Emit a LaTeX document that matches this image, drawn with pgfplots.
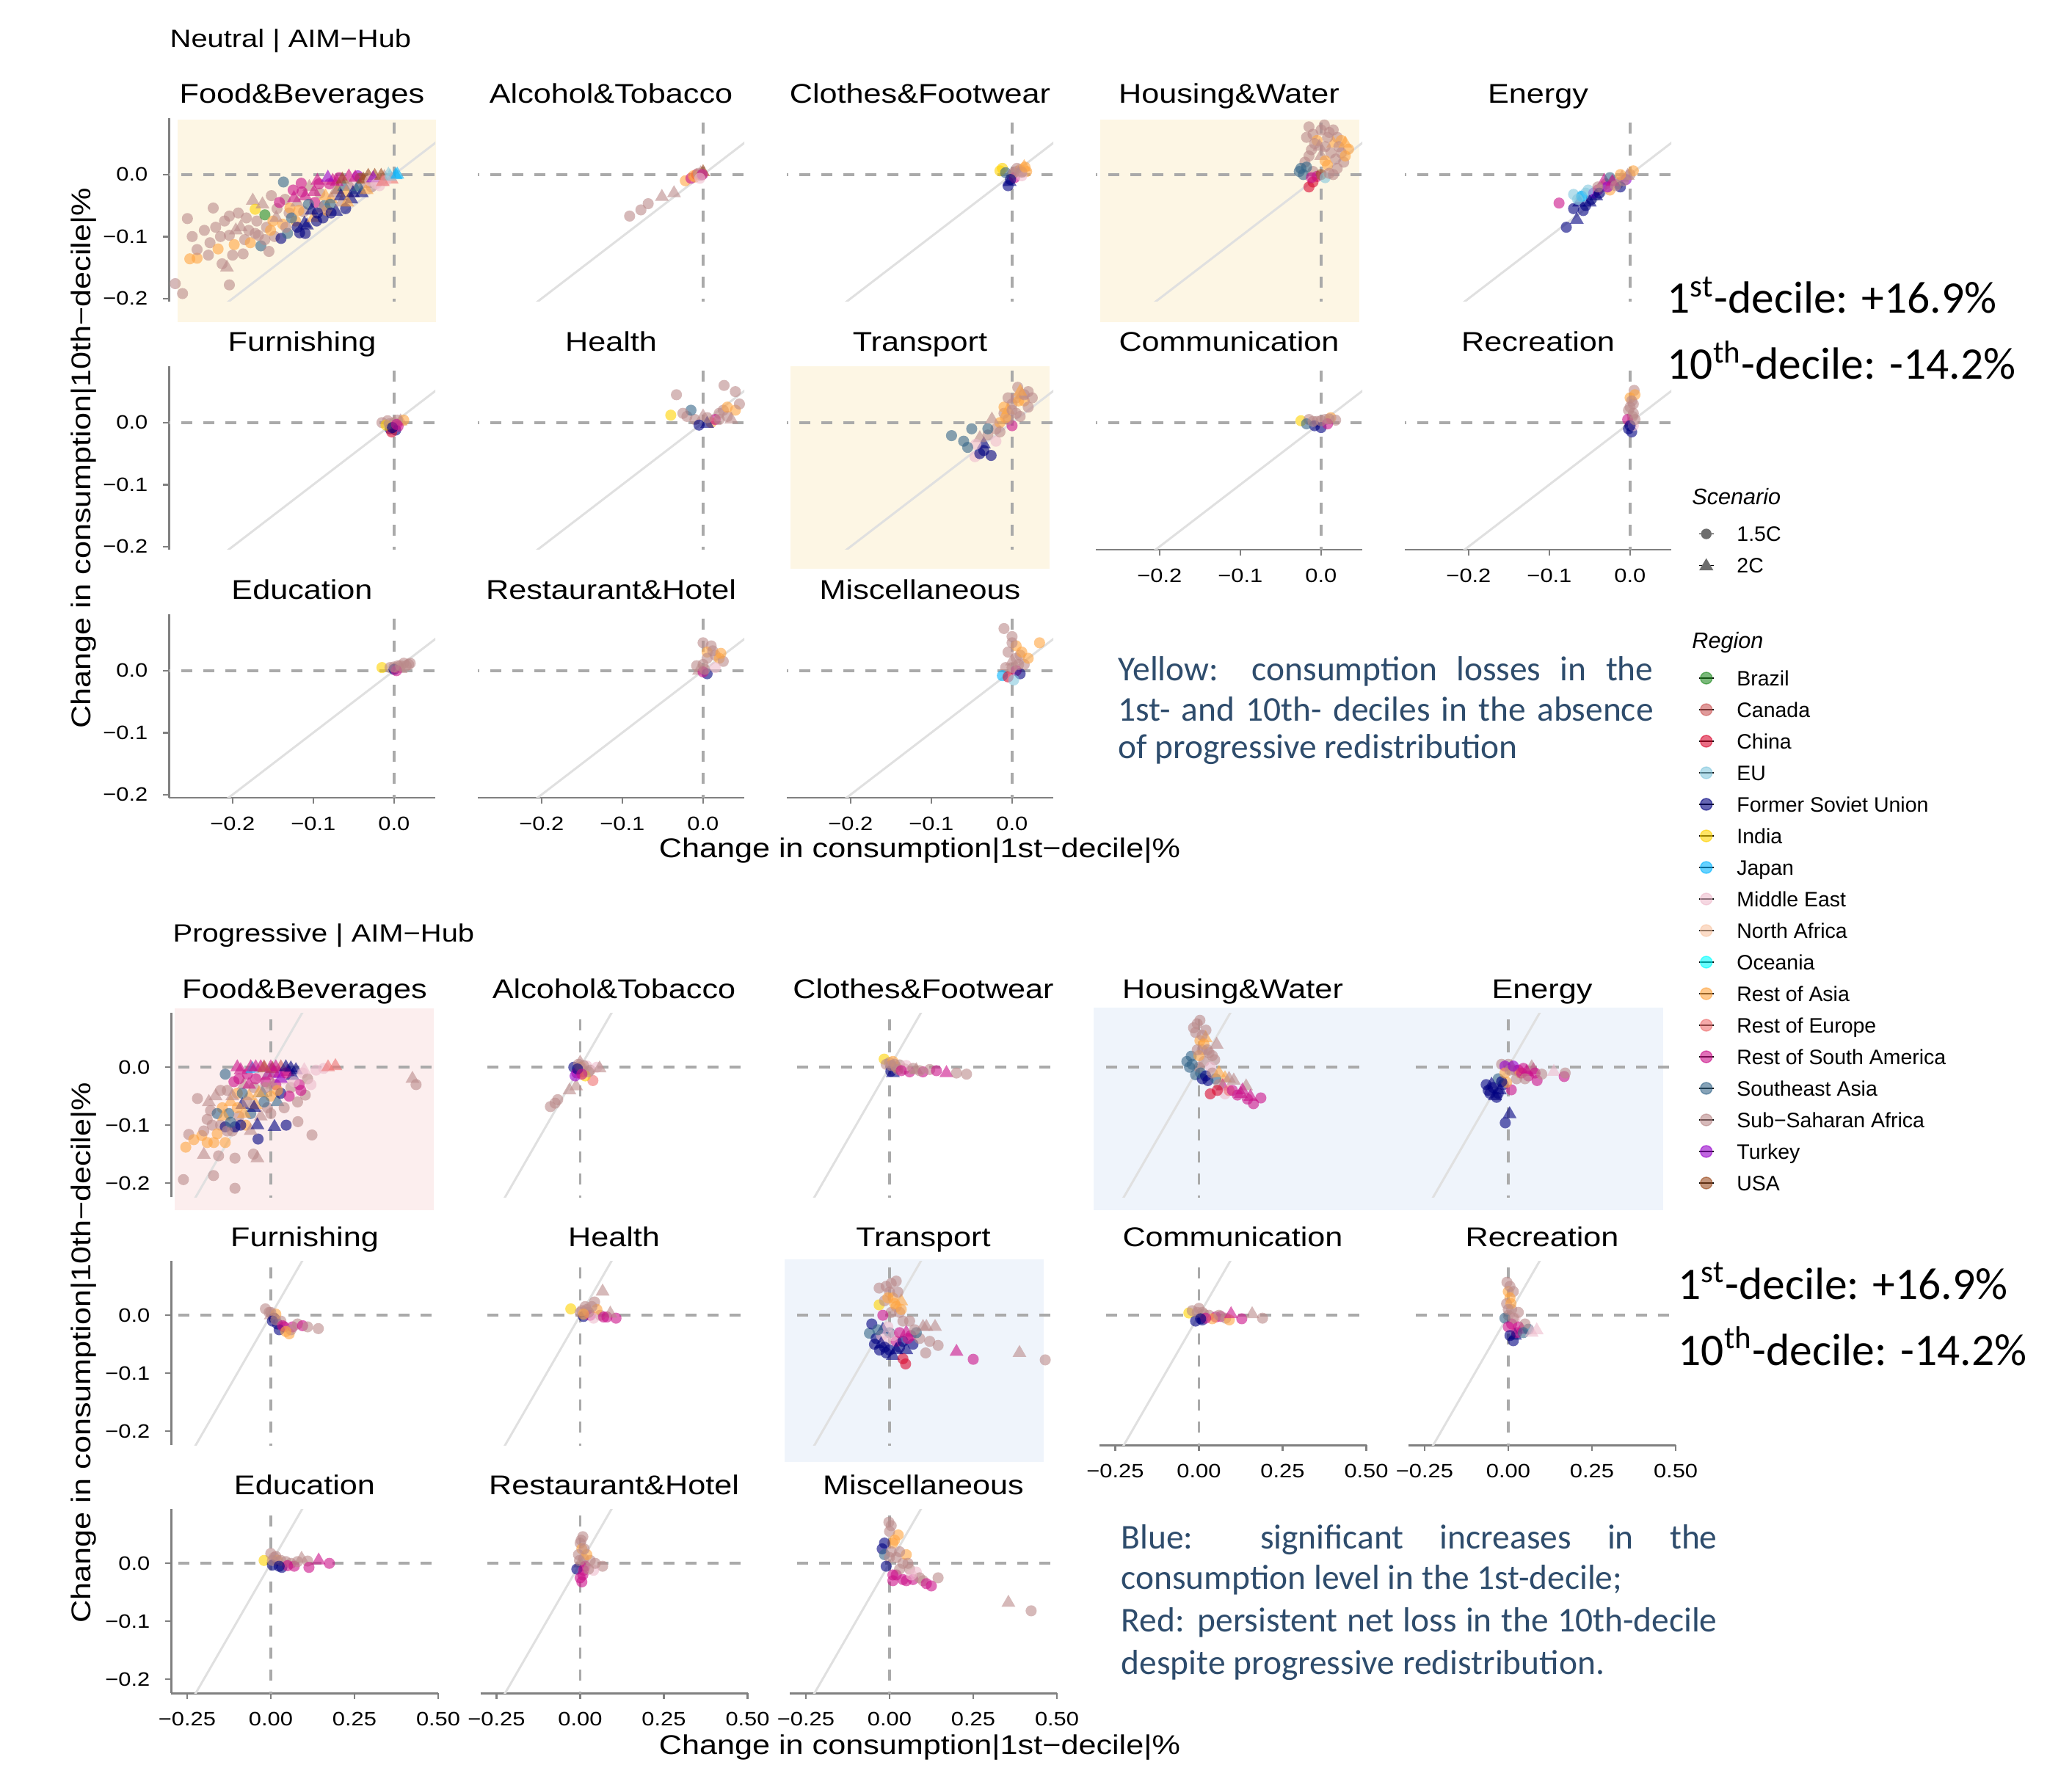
\documentclass[border=0pt]{standalone}
\usepackage{pgfplots}
\pgfplotsset{compat=1.18}
\usepackage{pgfplotstable}
\usepackage{fontspec}
\setmainfont{Liberation Sans}
\newfontfamily\pf[FakeStretch=1.17]{Liberation Sans}
\newfontfamily\cf{Carlito}

\definecolor{brC}{RGB}{34,139,34}
\definecolor{caC}{RGB}{203,87,87}
\definecolor{cnC}{RGB}{218,10,48}
\definecolor{euC}{RGB}{132,200,222}
\definecolor{fsC}{RGB}{0,0,128}
\definecolor{inC}{RGB}{255,210,0}
\definecolor{jpC}{RGB}{0,180,255}
\definecolor{meC}{RGB}{238,188,205}
\definecolor{naC}{RGB}{248,197,163}
\definecolor{ocC}{RGB}{0,255,255}
\definecolor{raC}{RGB}{255,165,65}
\definecolor{reC}{RGB}{238,113,113}
\definecolor{rsC}{RGB}{203,17,137}
\definecolor{seC}{RGB}{53,102,137}
\definecolor{ssC}{RGB}{186,138,138}
\definecolor{tuC}{RGB}{150,0,203}
\definecolor{usC}{RGB}{157,77,33}
\definecolor{ybg}{RGB}{253,246,228}
\definecolor{pbg}{RGB}{252,238,238}
\definecolor{bbg}{RGB}{239,244,251}
\definecolor{axgray}{RGB}{128,128,128}
\definecolor{dashgray}{RGB}{170,170,170}
\definecolor{diaggray}{RGB}{224,224,224}
\definecolor{btext}{RGB}{46,76,108}
\definecolor{scen}{RGB}{110,110,110}

\pgfplotsset{
 every axis title/.style={at={(0.5,1)}, anchor=base, yshift=0.2cm, inner sep=0pt, font=\pf\fontsize{10.5}{12}\selectfont},
 pts/.style={scatter, only marks, scatter src=explicit symbolic, mark size=2.15pt,
   mark options={draw opacity=0, fill opacity=0.6},
   scatter/classes={
    brc={mark=*,brC}, brt={mark=triangle*,brC,mark size=3.1pt},
    cac={mark=*,caC}, cat={mark=triangle*,caC,mark size=3.1pt},
    cnc={mark=*,cnC}, cnt={mark=triangle*,cnC,mark size=3.1pt},
    euc={mark=*,euC}, eut={mark=triangle*,euC,mark size=3.1pt},
    fsc={mark=*,fsC}, fst={mark=triangle*,fsC,mark size=3.1pt},
    inc={mark=*,inC}, int={mark=triangle*,inC,mark size=3.1pt},
    jpc={mark=*,jpC}, jpt={mark=triangle*,jpC,mark size=3.1pt},
    mec={mark=*,meC}, met={mark=triangle*,meC,mark size=3.1pt},
    nac={mark=*,naC}, nat={mark=triangle*,naC,mark size=3.1pt},
    occ={mark=*,ocC}, oct={mark=triangle*,ocC,mark size=3.1pt},
    rac={mark=*,raC}, rat={mark=triangle*,raC,mark size=3.1pt},
    rec={mark=*,reC}, ret={mark=triangle*,reC,mark size=3.1pt},
    rsc={mark=*,rsC}, rst={mark=triangle*,rsC,mark size=3.1pt},
    sec={mark=*,seC}, set={mark=triangle*,seC,mark size=3.1pt},
    ssc={mark=*,ssC}, sst={mark=triangle*,ssC,mark size=3.1pt},
    tuc={mark=*,tuC}, tut={mark=triangle*,tuC,mark size=3.1pt},
    usc={mark=*,usC}, ust={mark=triangle*,usC,mark size=3.1pt}}},
 common/.style={scale only axis, clip=true,
   axis line style={draw=axgray, line width=0.85pt, -},
   tick style={draw=axgray, line width=0.7pt}, tick align=outside, major tick length=0.08cm,
   ticklabel style={font=\pf\fontsize{7.5}{9}\selectfont, inner sep=0pt},
   ytick={-0.2,-0.1,0}, yticklabels={−0.2,−0.1,0.0},
   yticklabel style={xshift=-0.2cm}, xticklabel style={yshift=-0.17cm}},
 neu/.style={common, width=3.63cm, height=2.50cm, xmin=-0.279, xmax=0.051, ymin=-0.205, ymax=0.091,
   xtick={-0.2,-0.1,0}, xticklabels={−0.2,−0.1,0.0}},
 pro/.style={common, width=3.64cm, height=2.51cm, xmin=-0.298, xmax=0.50, ymin=-0.224, ymax=0.094,
   xtick={-0.25,0,0.25,0.5}, xticklabels={−0.25,0.00,0.25,0.50}},
 nax/.style={hide axis},
 yax/.style={axis y line*=left, hide x axis},
 xax/.style={axis x line*=bottom, hide y axis},
 xyax/.style={axis x line*=bottom, axis y line*=left},
}

\newcommand\panel[6]{%
 \begin{axis}[#1, #2, at={(#3cm,#4cm)}, anchor=north west, title={#5}]
  \addplot[diaggray, line width=0.85pt] coordinates {(-1,-1) (1,1)};
  \addplot[dashgray, line width=1.1pt, dash pattern=on 0.15cm off 0.15cm] coordinates {(-1,0) (1,0)};
  \addplot[dashgray, line width=1.1pt, dash pattern=on 0.15cm off 0.15cm] coordinates {(0,-1) (0,1)};
  \addplot[pts] table[x=x, y=y, meta=c] {#6};
 \end{axis}}

\newcommand\lst{\rule[-0.115cm]{0pt}{0.43cm}}
\newcommand\regimg[1]{\addlegendimage{legend image code/.code={\path (-0.1cm,0) -- (0.1cm,0); \fill[#1, opacity=0.6] (0,0) circle (0.08cm);}}}

% ---------------- Neutral data ----------------
\pgfplotstableread{
x y c
-0.271 -0.176 ssc
-0.262 -0.192 ssc
-0.256 -0.071 ssc
-0.253 -0.136 rac
-0.244 -0.135 rac
-0.244 -0.121 ssc
-0.230 -0.130 ssc
-0.224 -0.054 ssc
-0.221 -0.085 ssc
-0.215 -0.100 ssc
-0.213 -0.144 ssc
-0.207 -0.150 sst
-0.204 -0.178 ssc
-0.204 -0.098 ssc
-0.204 -0.067 ssc
-0.198 -0.113 rac
-0.193 -0.062 ssc
-0.190 -0.085 sst
-0.187 -0.128 ssc
-0.185 -0.105 ssc
-0.180 -0.090 ssc
-0.175 -0.042 sst
-0.172 -0.056 inc
-0.170 -0.075 ssc
-0.168 -0.098 ssc
-0.165 -0.115 sec
-0.160 -0.065 brc
-0.158 -0.085 ssc
-0.155 -0.124 ssc
-0.152 -0.034 ssc
-0.150 -0.075 rac
-0.148 -0.100 ssc
-0.145 -0.055 ssc
-0.140 -0.103 fsc
-0.138 -0.080 rac
-0.137 -0.012 sec
-0.135 -0.040 ssc
-0.132 -0.095 sec
-0.130 -0.062 ssc
-0.129 -0.054 rac
-0.125 -0.025 rsc
-0.122 -0.075 rac
-0.120 -0.045 sst
-0.117 -0.094 fsc
-0.115 -0.014 rsc
-0.112 -0.060 ssc
-0.111 -0.079 fst
-0.110 -0.035 rst
-0.108 -0.082 fst
-0.105 -0.020 sst
-0.100 -0.070 rat
-0.098 -0.045 rsc
-0.095 -0.010 rst
-0.092 -0.030 ssc
-0.088 -0.070 fsc
-0.086 -0.050 sec
-0.083 -0.058 rac
-0.080 -0.015 rsc
-0.078 -0.040 rat
-0.076 -0.010 rst
-0.072 -0.060 fst
-0.070 -0.025 ust
-0.068 -0.005 rsc
-0.065 -0.045 sst
-0.062 -0.020 set
-0.060 -0.055 fsc
-0.059 -0.030 rat
-0.056 -0.003 rst
-0.053 -0.040 fst
-0.050 -0.012 mec
-0.047 -0.025 set
-0.045 -0.002 tuc
-0.042 -0.006 usc
-0.040 -0.030 fst
-0.036 -0.015 sst
-0.032 -0.002 ust
-0.028 -0.020 ssc
-0.024 -0.002 ust
-0.020 -0.010 mec
-0.018 -0.018 mec
-0.012 -0.004 sst
-0.007 0.000 eut
0.002 -0.001 jpt
-0.003 -0.008 ret
-0.250 -0.100 ssc
-0.235 -0.090 ssc
-0.228 -0.110 ssc
-0.218 -0.120 rac
-0.210 -0.075 ssc
-0.200 -0.130 ssc
-0.196 -0.090 sst
-0.183 -0.070 ssc
-0.178 -0.110 rac
-0.172 -0.095 ssc
-0.163 -0.048 sst
-0.160 -0.105 ssc
-0.153 -0.090 rac
-0.146 -0.070 sst
-0.142 -0.045 rsc
-0.134 -0.085 ssc
-0.127 -0.070 sec
-0.124 -0.038 rst
-0.118 -0.058 rac
-0.114 -0.028 rsc
-0.106 -0.048 sec
-0.102 -0.058 fst
-0.099 -0.028 rst
-0.096 -0.075 fsc
-0.093 -0.015 rsc
-0.090 -0.055 sst
-0.085 -0.035 rat
-0.082 -0.005 tut
-0.079 -0.048 sec
-0.074 -0.030 sst
-0.071 -0.012 rst
-0.066 -0.035 fst
-0.064 -0.008 ust
-0.058 -0.045 rat
-0.055 -0.018 sst
-0.051 -0.030 fst
-0.048 -0.005 rst
-0.044 -0.020 set
-0.038 -0.008 ust
-0.034 -0.025 rat
-0.030 -0.010 mec
-0.026 -0.006 tut
-0.022 -0.015 mec
-0.016 -0.002 ust
-0.010 -0.010 mec
-0.005 -0.003 eut
0.004 0.000 jpt
-0.014 -0.012 ret
-0.120 -0.085 fsc
-0.095 -0.062 fsc
-0.078 -0.062 fsc
-0.110 -0.095 fsc
}\nA
\pgfplotstableread{
x y c
-0.091 -0.067 ssc
-0.077 -0.057 ssc
-0.068 -0.047 ssc
-0.051 -0.036 sst
-0.036 -0.030 sst
-0.022 -0.010 rac
-0.015 -0.006 rsc
-0.010 -0.004 rac
-0.008 0.000 cnc
-0.005 -0.002 mec
-0.003 0.002 sst
0.000 0.004 ust
-0.002 -0.001 ssc
-0.012 -0.002 rac
-0.006 0.002 ssc
-0.001 0.000 rsc
-0.004 -0.006 mec
}\nB
\pgfplotstableread{
x y c
-0.015 0.006 inc
-0.012 0.010 inc
-0.005 -0.018 fsc
-0.003 -0.012 fst
0.000 0.000 ssc
0.005 0.005 ssc
0.010 0.008 rac
0.015 0.012 rat
0.018 0.005 rac
0.003 -0.005 rsc
0.008 0.002 sst
-0.008 0.003 sec
0.012 -0.002 mec
0.002 0.003 ssc
0.006 0.010 ssc
0.012 0.004 ssc
-0.002 -0.008 fsc
0.016 0.012 rac
}\nC
\pgfplotstableread{
x y c
-0.015 0.077 ssc
0.004 0.080 ssc
-0.010 0.065 ssc
0.010 0.068 ssc
0.020 0.060 ssc
-0.005 0.055 rac
0.015 0.050 rat
0.034 0.041 rac
0.025 0.035 ssc
-0.012 0.040 ssc
0.000 0.030 sst
0.018 0.025 ssc
-0.020 0.020 ssc
0.008 0.015 rac
-0.027 0.005 sec
-0.022 0.000 sec
-0.010 0.005 ssc
-0.005 -0.003 rsc
0.000 0.000 usc
0.005 -0.005 euc
-0.015 -0.020 cnc
-0.010 -0.012 cnc
0.010 0.002 ssc
0.020 0.010 ssc
0.028 0.020 ssc
-0.002 0.045 sst
0.012 0.035 ssc
-0.018 0.060 ssc
0.000 0.072 ssc
0.015 0.072 ssc
0.025 0.055 rac
0.030 0.030 rac
-0.008 0.050 ssc
0.005 0.045 ssc
0.022 0.045 ssc
-0.015 0.030 ssc
0.005 0.022 rac
-0.025 0.010 sec
-0.018 0.012 sec
0.015 0.000 ssc
-0.012 -0.005 rsc
0.008 0.060 ssc
0.030 0.050 rat
}\nD
\pgfplotstableread{
x y c
-0.079 -0.085 fsc
-0.066 -0.073 fst
-0.088 -0.046 rsc
-0.070 -0.055 fsc
-0.063 -0.045 fst
-0.055 -0.050 fsc
-0.048 -0.040 fsc
-0.070 -0.032 euc
-0.062 -0.038 eut
-0.055 -0.030 euc
-0.060 -0.035 jpc
-0.045 -0.030 tuc
-0.040 -0.025 rsc
-0.042 -0.035 fst
-0.035 -0.020 ssc
-0.030 -0.015 ssc
-0.025 -0.025 rac
-0.020 -0.010 ssc
-0.015 -0.015 ssc
-0.010 -0.005 sst
-0.005 -0.008 tuc
-0.032 -0.010 rst
0.000 0.000 ssc
0.004 0.006 rac
-0.025 -0.005 sec
-0.012 -0.020 fsc
-0.058 -0.058 fsc
-0.050 -0.045 fst
-0.065 -0.040 euc
-0.052 -0.025 euc
-0.038 -0.030 fsc
-0.028 -0.020 tuc
-0.022 -0.012 rst
-0.018 -0.018 ssc
-0.008 -0.010 ssc
-0.003 -0.002 sst
-0.040 -0.020 ssc
-0.012 0.000 rac
}\nE
\pgfplotstableread{
x y c
-0.015 0.000 ssc
-0.008 0.003 ssc
0.000 0.000 ssc
0.008 0.002 sst
-0.005 -0.010 fsc
0.002 -0.012 fsc
-0.003 -0.015 cnc
0.012 0.004 rac
-0.010 -0.004 inc
0.005 -0.006 rsc
-0.006 -0.002 ssc
0.004 0.004 ssc
-0.002 -0.008 fsc
0.003 -0.003 rsc
}\nF
\pgfplotstableread{
x y c
-0.040 0.012 inc
-0.033 0.045 ssc
0.026 0.060 ssc
0.040 0.050 ssc
-0.020 0.010 ssc
-0.010 0.005 ssc
0.000 0.010 sst
0.010 0.000 rac
0.020 0.015 ssc
0.030 0.010 ssc
-0.005 -0.004 fsc
0.005 -0.002 fst
0.015 0.005 rsc
0.040 0.020 rac
0.035 0.005 sst
-0.015 0.020 sec
0.045 0.030 ssc
0.020 0.005 ssc
0.025 0.020 ssc
-0.025 0.015 ssc
0.005 0.008 ssc
0.030 0.025 rac
}\nG
\pgfplotstableread{
x y c
-0.046 -0.055 mec
-0.040 -0.050 fsc
-0.026 -0.053 fsc
-0.075 -0.021 sec
-0.050 -0.010 sec
-0.060 -0.030 sec
-0.035 -0.035 fst
-0.030 -0.020 ssc
-0.020 -0.010 ssc
-0.015 0.000 rac
-0.010 0.015 ssc
-0.005 0.020 rat
0.000 0.030 ssc
0.005 0.040 ssc
0.007 0.057 ssc
0.020 0.050 ssc
0.015 0.035 rac
0.010 0.010 ssc
-0.025 0.005 sst
-0.020 -0.030 mec
0.000 -0.005 rsc
-0.010 0.025 rac
0.012 0.045 sst
-0.040 -0.025 sst
0.020 0.025 ssc
-0.005 0.005 ssc
-0.035 -0.045 fsc
-0.030 -0.010 sec
-0.015 -0.015 ssc
-0.008 0.008 rac
0.000 0.020 ssc
0.008 0.035 rac
0.015 0.045 ssc
0.025 0.040 ssc
0.010 0.050 rat
-0.005 0.040 ssc
-0.045 -0.035 mec
0.005 0.015 ssc
-0.055 -0.040 sec
}\nH
\pgfplotstableread{
x y c
-0.025 0.003 inc
-0.015 0.005 ssc
-0.005 0.002 ssc
0.005 0.005 ssc
0.012 0.008 rac
0.018 0.004 ssc
0.000 -0.008 fsc
-0.008 -0.005 fsc
0.008 -0.002 rsc
-0.018 -0.002 sec
0.000 0.003 ssc
0.010 0.006 ssc
-0.010 0.002 ssc
}\nI
\pgfplotstableread{
x y c
0.005 0.052 ssc
0.000 0.040 rac
0.004 0.030 ssc
-0.002 0.020 ssc
0.003 0.010 ssc
0.000 0.000 sst
-0.002 -0.010 fsc
0.002 -0.015 fsc
0.006 0.045 rac
-0.003 0.005 rsc
0.004 -0.005 mec
0.002 0.035 ssc
0.000 0.025 ssc
0.004 0.015 ssc
0.000 -0.005 fsc
0.006 0.005 ssc
}\nJ
\pgfplotstableread{
x y c
-0.015 0.005 inc
-0.005 0.005 ssc
0.005 0.008 ssc
0.012 0.012 ssc
0.018 0.010 ssc
0.000 0.002 fsc
0.008 0.003 sst
0.003 0.000 rsc
0.008 0.008 ssc
0.015 0.008 ssc
0.000 0.006 ssc
0.020 0.012 ssc
}\nK
\pgfplotstableread{
x y c
0.000 0.045 ssc
0.010 0.040 ssc
0.005 0.030 rac
0.015 0.025 ssc
0.020 0.020 rac
0.025 0.015 ssc
0.000 0.010 ssc
-0.005 0.000 sst
0.005 -0.005 fsc
0.000 -0.002 rsc
0.015 0.005 mec
-0.008 0.008 ssc
0.005 0.020 ssc
0.012 0.032 ssc
0.022 0.028 rac
0.002 0.002 ssc
}\nL
\pgfplotstableread{
x y c
-0.010 0.068 ssc
0.034 0.045 rac
0.000 0.055 ssc
0.005 0.040 rac
-0.005 0.030 ssc
0.010 0.025 ssc
0.000 0.015 sst
0.015 0.010 ssc
-0.008 0.005 ssc
0.005 0.000 rsc
-0.012 -0.008 jpc
-0.005 -0.010 cnc
0.010 -0.005 fsc
0.020 0.020 rac
0.002 -0.015 euc
0.000 0.045 ssc
0.005 0.020 ssc
0.012 0.030 rac
0.000 0.005 ssc
0.008 0.010 ssc
}\nM
% ---------------- Progressive data ----------------
\pgfplotstableread{
x y c
-0.261 -0.194 ssc
-0.171 -0.187 ssc
-0.107 -0.209 ssc
-0.254 -0.138 rac
-0.245 -0.116 ssc
-0.230 -0.125 rac
-0.219 -0.054 ssc
-0.206 -0.118 rac
-0.200 -0.151 sst
-0.190 -0.090 ssc
-0.180 -0.075 ssc
-0.170 -0.130 rac
-0.165 -0.050 sst
-0.156 -0.153 ssc
-0.150 -0.100 ssc
-0.145 -0.070 rac
-0.136 -0.130 rac
-0.136 -0.103 fsc
-0.136 -0.012 sec
-0.130 -0.040 ssc
-0.125 -0.080 sec
-0.120 -0.060 rat
-0.115 -0.110 ssc
-0.110 -0.025 rsc
-0.107 -0.103 fsc
-0.107 -0.157 ssc
-0.100 -0.045 rac
-0.095 -0.085 ssc
-0.090 -0.005 rst
-0.085 -0.065 fst
-0.080 -0.030 sst
-0.075 -0.100 rac
-0.070 -0.012 rsc
-0.065 -0.050 rat
-0.060 -0.080 sec
-0.055 -0.003 jpt
-0.052 -0.150 ssc
-0.050 -0.035 ssc
-0.045 -0.065 rat
-0.040 -0.157 sst
-0.038 -0.124 fsc
-0.035 -0.015 mec
-0.030 -0.085 sst
-0.025 -0.045 set
-0.020 -0.002 ust
-0.015 -0.025 rsc
-0.010 -0.070 ssc
-0.005 -0.010 eut
0.000 -0.050 rac
0.005 -0.003 ust
0.011 -0.103 fst
0.015 -0.030 rsc
0.020 -0.060 set
0.025 -0.012 tut
0.030 -0.045 fsc
0.040 -0.020 mec
0.046 -0.100 fsc
0.050 -0.008 rst
0.060 -0.035 ssc
0.065 -0.015 fst
0.075 -0.005 fst
0.081 -0.094 ssc
0.085 -0.030 rsc
0.095 -0.010 mec
0.103 -0.048 ssc
0.110 -0.020 ssc
0.123 -0.117 ssc
0.135 -0.005 mec
0.158 -0.002 mec
0.171 0.000 ret
0.193 0.002 ret
0.423 -0.020 sst
0.434 -0.030 ssc
-0.060 0.000 rst
-0.030 0.000 rst
0.000 0.000 rst
0.030 0.000 cat
0.060 -0.002 fst
-0.200 -0.110 ssc
-0.190 -0.130 rac
-0.185 -0.060 sst
-0.175 -0.100 ssc
-0.160 -0.115 rac
-0.160 -0.080 sec
-0.150 -0.040 ssc
-0.140 -0.085 rat
-0.130 -0.110 ssc
-0.120 -0.095 sec
-0.115 -0.050 sst
-0.100 -0.070 rac
-0.095 -0.020 rsc
-0.090 -0.100 fsc
-0.085 -0.045 sec
-0.080 -0.080 rat
-0.070 -0.060 ssc
-0.065 -0.030 rst
-0.060 -0.110 sst
-0.050 -0.070 fst
-0.045 -0.020 rsc
-0.040 -0.100 fst
-0.035 -0.045 rat
-0.020 -0.060 sec
-0.015 -0.035 ssc
-0.010 -0.015 rst
0.000 -0.080 ssc
0.005 -0.030 sst
0.010 -0.010 rst
0.020 -0.040 rac
0.030 -0.020 tut
0.040 -0.070 ssc
0.045 -0.010 rsc
0.055 -0.050 rsc
0.070 -0.025 mec
0.080 -0.060 ssc
0.090 -0.040 rsc
0.100 -0.005 met
-0.100 0.000 rst
-0.045 0.000 rst
0.015 0.000 rst
0.045 0.000 fst
-0.020 0.000 cat
0.120 -0.030 mec
}\pA
\pgfplotstableread{
x y c
-0.089 -0.068 ssc
-0.067 -0.056 ssc
-0.075 -0.062 ssc
-0.032 -0.040 sst
-0.012 -0.033 sst
-0.019 0.000 fsc
-0.010 -0.010 rsc
-0.005 0.005 ssc
0.000 0.008 sst
0.005 0.000 rac
0.010 -0.008 ssc
0.020 0.002 mec
0.038 -0.023 rec
0.030 -0.005 ssc
0.050 0.000 mec
0.058 -0.002 sst
-0.015 -0.015 tuc
0.015 -0.015 inc
0.000 0.000 ssc
0.010 0.003 ssc
-0.008 -0.003 fsc
0.025 -0.008 ssc
0.005 -0.012 rsc
}\pB
\pgfplotstableread{
x y c
-0.016 0.014 inc
-0.010 0.005 ssc
0.004 -0.007 fsc
0.010 -0.010 fst
0.000 0.008 ssc
0.020 0.000 rac
0.030 0.004 ssc
0.045 -0.003 ssc
0.060 -0.008 rsc
0.080 -0.005 sst
0.100 -0.008 rsc
0.120 -0.004 ssc
0.140 -0.006 rsc
0.170 -0.010 rst
0.200 -0.010 ssc
0.230 -0.012 ssc
0.010 0.010 rac
0.050 0.003 mec
0.005 0.003 ssc
0.015 0.005 ssc
0.025 -0.004 ssc
0.035 -0.006 rsc
0.070 -0.002 ssc
0.090 -0.006 ssc
}\pC
\pgfplotstableread{
x y c
-0.016 0.068 ssc
0.003 0.081 ssc
-0.005 0.075 ssc
0.021 0.064 ssc
0.053 0.039 sst
0.003 0.046 rac
0.020 0.050 rat
0.010 0.030 ssc
-0.023 0.019 sec
-0.036 0.010 sec
-0.010 -0.013 sec
0.000 0.000 ssc
0.015 0.010 ssc
0.027 -0.023 fsc
0.010 -0.020 fsc
0.047 0.013 ssc
0.035 0.000 mec
0.034 -0.046 cnc
0.078 -0.019 rat
0.104 -0.023 sst
0.071 -0.033 rst
0.115 -0.048 rsc
0.141 -0.033 sst
0.154 -0.051 rst
0.185 -0.053 rsc
0.163 -0.063 rsc
0.078 -0.046 mec
0.125 -0.046 rst
0.050 -0.020 sec
0.060 -0.030 ssc
0.090 -0.040 rec
0.000 0.020 rac
0.030 0.025 ssc
-0.010 0.060 ssc
0.010 0.055 ssc
0.015 0.040 rac
0.025 0.030 ssc
-0.005 0.030 ssc
-0.020 0.005 sec
-0.028 0.000 sec
0.005 -0.010 sec
0.020 -0.015 fsc
0.040 -0.010 ssc
0.060 -0.010 rat
0.090 -0.020 sst
0.100 -0.040 rsc
0.130 -0.040 rst
0.145 -0.055 rsc
0.055 -0.040 cnc
0.040 0.020 ssc
}\pD
\pgfplotstableread{
x y c
-0.066 -0.030 fsc
-0.055 -0.045 fsc
-0.045 -0.035 fsc
-0.035 -0.052 fsc
-0.040 -0.050 fst
-0.025 -0.040 fst
-0.015 -0.030 fsc
-0.009 -0.096 fsc
0.004 -0.081 fst
0.009 -0.039 rsc
-0.005 -0.026 rac
-0.020 0.005 ssc
0.000 0.005 ssc
0.010 0.000 sst
0.020 -0.005 ssc
0.030 -0.005 rsc
0.035 -0.010 rac
0.045 -0.002 rsc
0.060 -0.015 rsc
0.075 -0.005 rst
0.086 -0.023 rsc
0.070 0.000 sst
0.136 -0.008 met
0.167 -0.016 rsc
0.170 -0.010 ssc
-0.010 0.002 tuc
0.025 -0.020 ssc
-0.030 -0.020 sec
-0.060 -0.040 fsc
-0.050 -0.030 fst
-0.030 -0.045 fsc
-0.020 -0.025 fsc
-0.010 -0.010 rac
0.005 -0.005 ssc
0.015 0.002 tuc
0.040 -0.010 rsc
0.055 -0.008 rst
0.080 -0.010 rsc
0.100 -0.012 ssc
0.050 -0.020 ssc
}\pE
\pgfplotstableread{
x y c
-0.016 0.011 ssc
-0.005 0.005 ssc
0.000 0.000 sst
0.010 -0.005 fsc
0.020 -0.015 fsc
0.030 -0.010 ssc
0.040 -0.020 rsc
0.055 -0.032 rac
0.065 -0.020 rsc
0.080 -0.015 ssc
0.095 -0.018 rsc
0.110 -0.020 ssc
0.142 -0.023 ssc
0.025 -0.025 fsc
0.015 0.002 rac
0.000 0.005 ssc
0.005 -0.010 fsc
0.015 -0.008 ssc
0.035 -0.018 rsc
0.060 -0.025 ssc
0.045 -0.028 rac
}\pF
\pgfplotstableread{
x y c
-0.028 0.011 inc
0.000 0.005 ssc
0.010 -0.002 fsc
0.020 0.010 ssc
0.043 0.023 ssc
0.067 0.041 sst
0.030 0.000 rsc
0.060 0.000 ssc
0.080 -0.003 rsc
0.107 -0.005 rsc
0.090 0.003 sst
0.050 0.010 rac
0.015 0.015 ssc
0.040 -0.005 mec
0.005 0.008 ssc
0.025 0.005 ssc
0.035 0.015 ssc
0.070 -0.003 rsc
0.010 0.002 rac
}\pG
\pgfplotstableread{
x y c
0.020 0.059 ssc
-0.031 0.047 ssc
-0.010 0.050 ssc
-0.031 0.018 inc
0.035 0.024 rat
0.000 0.040 ssc
0.010 0.030 rac
-0.015 0.025 ssc
0.020 0.015 rac
0.005 0.005 ssc
0.030 0.005 ssc
-0.020 0.000 rsc
-0.060 -0.031 sec
-0.053 -0.015 fsc
-0.040 -0.040 fsc
-0.030 -0.060 fsc
-0.010 -0.065 fsc
0.010 -0.070 fst
0.030 -0.055 fsc
0.050 -0.060 fst
0.070 -0.050 fsc
-0.020 -0.025 fst
0.000 -0.030 sec
0.064 -0.035 rsc
0.050 -0.030 rst
-0.024 -0.035 mec
-0.010 -0.045 mec
0.040 -0.010 ssc
0.100 -0.020 sst
0.136 -0.020 sst
0.145 -0.052 ssc
0.108 -0.065 ssc
0.090 -0.040 ssc
0.200 -0.063 rst
0.250 -0.076 rsc
0.388 -0.065 sst
0.465 -0.077 ssc
0.048 -0.084 cnc
0.040 -0.075 cnc
0.080 -0.030 sec
0.020 -0.045 rsc
-0.045 -0.050 fsc
-0.025 -0.050 fst
-0.015 -0.055 fsc
0.000 -0.060 fsc
0.020 -0.060 fst
0.040 -0.045 fsc
-0.035 -0.025 sec
-0.005 -0.020 mec
0.010 -0.035 mec
0.030 -0.030 rsc
0.055 -0.040 rsc
0.025 0.040 ssc
0.005 0.055 ssc
-0.005 0.030 rac
0.015 0.020 rac
0.035 0.010 rac
0.060 -0.010 ssc
0.075 -0.025 ssc
0.120 -0.045 ssc
0.110 -0.020 sst
}\pH
\pgfplotstableread{
x y c
-0.030 0.004 inc
-0.020 0.008 ssc
0.000 0.012 ssc
0.010 0.005 ssc
-0.010 -0.010 fsc
0.010 -0.008 fsc
0.030 0.000 ssc
0.050 -0.003 rsc
0.065 -0.002 rsc
0.080 -0.005 ssc
0.091 -0.008 rac
0.096 0.002 rst
0.128 -0.006 rsc
0.159 0.002 sst
0.190 -0.005 ssc
0.040 -0.006 rac
-0.005 0.005 ssc
0.015 0.002 ssc
0.020 -0.005 rsc
0.060 0.000 ssc
0.005 -0.006 fsc
}\pI
\pgfplotstableread{
x y c
-0.004 0.057 ssc
0.000 0.041 rac
0.015 0.041 ssc
0.005 0.030 rac
-0.005 0.020 ssc
0.010 0.010 ssc
0.000 0.000 ssc
0.020 -0.005 mec
0.010 -0.015 rsc
0.030 -0.020 rsc
0.040 -0.025 rst
0.015 -0.044 fsc
0.020 -0.035 fst
0.060 -0.024 sec
0.085 -0.026 met
0.050 -0.015 ssc
-0.010 -0.005 sec
0.030 0.005 ssc
0.005 0.050 ssc
0.008 0.020 rac
0.000 0.010 ssc
0.015 -0.005 ssc
0.000 -0.020 rsc
0.025 -0.030 rsc
0.005 -0.035 fsc
0.045 -0.030 sec
0.070 -0.030 met
}\pJ
\pgfplotstableread{
x y c
-0.020 0.005 inc
0.000 0.017 ssc
0.010 0.010 ssc
0.020 0.005 rac
0.033 -0.007 fsc
0.045 0.003 ssc
0.060 0.000 ssc
0.070 -0.005 rsc
0.092 0.008 sst
0.110 0.004 ssc
0.114 -0.007 rsc
0.143 0.005 rst
0.175 0.000 rsc
0.005 -0.003 fsc
0.005 0.005 ssc
0.015 0.012 ssc
0.030 0.005 ssc
0.050 -0.004 rsc
0.080 0.003 ssc
0.025 -0.005 fsc
}\pK
\pgfplotstableread{
x y c
0.008 0.046 ssc
0.000 0.035 ssc
0.005 0.025 rac
-0.005 0.015 ssc
0.010 0.008 ssc
0.000 0.000 sst
0.015 -0.005 rsc
0.008 -0.020 rsc
0.005 -0.032 rsc
0.067 -0.005 ssc
0.030 0.005 ssc
-0.010 -0.010 fsc
0.040 -0.012 mec
0.020 0.015 rac
0.003 0.040 ssc
0.012 0.025 ssc
-0.002 0.005 ssc
0.010 -0.012 rsc
0.000 -0.025 rsc
0.025 -0.010 ssc
0.045 0.000 ssc
}\pL
\pgfplotstableread{
x y c
-0.002 0.071 ssc
0.026 0.049 rac
0.000 0.055 ssc
-0.022 0.025 fsc
-0.015 0.015 sec
0.010 0.035 rac
0.000 0.010 ssc
0.020 0.010 ssc
0.040 0.000 ssc
0.060 -0.010 ssc
0.020 -0.020 rsc
0.040 -0.028 rsc
0.070 -0.028 rsc
0.100 -0.030 ssc
0.125 -0.039 rsc
0.145 -0.025 ssc
0.080 -0.015 mec
0.010 -0.030 rsc
0.355 -0.068 sst
0.423 -0.082 ssc
-0.010 -0.005 fsc
0.050 0.015 rac
0.005 0.065 ssc
0.015 0.040 rac
-0.015 0.035 fsc
0.005 0.020 ssc
0.030 0.020 ssc
0.055 0.000 ssc
0.030 -0.010 ssc
0.010 -0.020 rsc
0.050 -0.030 rsc
0.090 -0.025 ssc
0.110 -0.035 rsc
0.065 -0.020 mec
}\pM

\begin{document}
\begin{tikzpicture}
\path[use as bounding box] (0,0) rectangle (28.23,-24.05);
% highlight boxes
\fill[ybg] (2.42,-1.63) rectangle (5.94,-4.39);
\fill[ybg] (14.99,-1.63) rectangle (18.52,-4.39);
\fill[ybg] (10.77,-4.99) rectangle (14.30,-7.75);
\fill[pbg] (2.38,-13.74) rectangle (5.91,-16.49);
\fill[bbg] (14.90,-13.73) rectangle (22.66,-16.49);
\fill[bbg] (10.69,-17.16) rectangle (14.22,-19.92);

% Neutral panels
\panel{neu}{yax}{2.30}{-1.61}{Food\&Beverages}{\nA}
\panel{neu}{nax}{6.51}{-1.61}{Alcohol\&Tobacco}{\nB}
\panel{neu}{nax}{10.72}{-1.61}{Clothes\&Footwear}{\nC}
\panel{neu}{nax}{14.93}{-1.61}{Housing\&Water}{\nD}
\panel{neu}{nax}{19.14}{-1.61}{Energy}{\nE}
\panel{neu}{yax}{2.30}{-4.99}{Furnishing}{\nF}
\panel{neu}{nax}{6.51}{-4.99}{Health}{\nG}
\panel{neu}{nax}{10.72}{-4.99}{Transport}{\nH}
\panel{neu}{xax}{14.93}{-4.99}{Communication}{\nI}
\panel{neu}{xax}{19.14}{-4.99}{Recreation}{\nJ}
\panel{neu}{xyax}{2.30}{-8.37}{Education}{\nK}
\panel{neu}{xax}{6.51}{-8.37}{Restaurant\&Hotel}{\nL}
\panel{neu}{xax}{10.72}{-8.37}{Miscellaneous}{\nM}

% Progressive panels
\panel{pro}{yax}{2.33}{-13.80}{Food\&Beverages}{\pA}
\panel{pro}{nax}{6.545}{-13.80}{Alcohol\&Tobacco}{\pB}
\panel{pro}{nax}{10.76}{-13.80}{Clothes\&Footwear}{\pC}
\panel{pro}{nax}{14.975}{-13.80}{Housing\&Water}{\pD}
\panel{pro}{nax}{19.19}{-13.80}{Energy}{\pE}
\panel{pro}{yax}{2.33}{-17.18}{Furnishing}{\pF}
\panel{pro}{nax}{6.545}{-17.18}{Health}{\pG}
\panel{pro}{nax}{10.76}{-17.18}{Transport}{\pH}
\panel{pro}{xax}{14.975}{-17.18}{Communication}{\pI}
\panel{pro}{xax}{19.19}{-17.18}{Recreation}{\pJ}
\panel{pro}{xyax}{2.33}{-20.56}{Education}{\pK}
\panel{pro}{xax}{6.545}{-20.56}{Restaurant\&Hotel}{\pL}
\panel{pro}{xax}{10.76}{-20.56}{Miscellaneous}{\pM}

% section titles and axis titles
\node[anchor=base west, inner sep=0pt, font=\pf\fontsize{9.7}{11}\selectfont] at (2.31,-0.65) {Neutral | AIM−Hub};
\node[anchor=base west, inner sep=0pt, font=\pf\fontsize{9.7}{11}\selectfont] at (2.35,-12.83) {Progressive | AIM−Hub};
\node[anchor=base, inner sep=0pt, font=\pf\fontsize{10.5}{12}\selectfont] at (12.53,-11.68) {Change in consumption|1st−decile|\%};
\node[anchor=base, inner sep=0pt, font=\pf\fontsize{10.5}{12}\selectfont] at (12.53,-23.90) {Change in consumption|1st−decile|\%};
\node[rotate=90, anchor=center, inner sep=0pt, font=\pf\fontsize{10.5}{12}\selectfont] at (1.14,-6.24) {Change in consumption|10th−decile|\%};
\node[rotate=90, anchor=center, inner sep=0pt, font=\pf\fontsize{10.5}{12}\selectfont] at (1.14,-18.43) {Change in consumption|10th−decile|\%};

% annotations
\node[anchor=base west, inner sep=0pt, font=\cf\fontsize{17.5}{20}\selectfont] at (22.71,-4.27) {1\textsuperscript{st}-decile: +16.9\%};
\node[anchor=base west, inner sep=0pt, font=\cf\fontsize{17.5}{20}\selectfont] at (22.71,-5.17) {10\textsuperscript{th}-decile: -14.2\%};
\node[anchor=base west, inner sep=0pt, font=\cf\fontsize{17.5}{20}\selectfont] at (22.86,-17.70) {1\textsuperscript{st}-decile: +16.9\%};
\node[anchor=base west, inner sep=0pt, font=\cf\fontsize{17.5}{20}\selectfont] at (22.86,-18.60) {10\textsuperscript{th}-decile: -14.2\%};

\begin{scope}[every node/.style={anchor=base west, inner sep=0pt, text=btext, font=\cf\fontsize{13.5}{16}\selectfont}]
\node at (15.23,-9.27) {\makebox[7.29cm][s]{Yellow: consumption losses in the}};
\node at (15.23,-9.82) {\makebox[7.29cm][s]{1st- and 10th- deciles in the absence}};
\node at (15.23,-10.33) {of progressive redistribution};
\node at (15.27,-21.10) {\makebox[8.12cm][s]{Blue: significant increases in the}};
\node at (15.27,-21.65) {consumption level in the 1st-decile;};
\node at (15.27,-22.23) {\makebox[8.12cm][s]{Red: persistent net loss in the 10th-decile}};
\node at (15.27,-22.81) {despite progressive redistribution.};
\end{scope}

% legend
\begin{axis}[at={(23.14cm,-6.57cm)}, anchor=north west, hide axis, scale only axis, width=2cm, height=2cm,
  xmin=0, xmax=1, ymin=0, ymax=1, legend cell align=left,
  legend style={at={(0,1)}, anchor=north west, draw=none, fill=none, inner sep=0pt, outer sep=0pt,
    row sep=0pt, column sep=0.31cm, font=\fontsize{8.1}{9.7}\selectfont,
    nodes={inner sep=0pt, outer sep=0pt, text depth={}}}]
\addlegendimage{legend image code/.code={}}
\addlegendentry{\hspace*{-0.61cm}{\fontsize{8.7}{10}\selectfont\itshape Scenario}\rule[-0.19cm]{0pt}{0.49cm}}
\addlegendimage{legend image code/.code={\path (-0.1cm,0) -- (0.1cm,0); \fill[scen] (0,0) circle (0.065cm);}}
\addlegendentry{1.5C\lst}
\addlegendimage{legend image code/.code={\path (-0.1cm,0) -- (0.1cm,0); \fill[scen] (-0.085cm,-0.06cm) -- (0.085cm,-0.06cm) -- (0,0.085cm) -- cycle;}}
\addlegendentry{2C\lst}
\addlegendimage{legend image code/.code={}}
\addlegendentry{\hspace*{-0.61cm}{\fontsize{8.7}{10}\selectfont\itshape Region}\rule[-0.19cm]{0pt}{1.105cm}}
\regimg{brC}\addlegendentry{Brazil\lst}
\regimg{caC}\addlegendentry{Canada\lst}
\regimg{cnC}\addlegendentry{China\lst}
\regimg{euC}\addlegendentry{EU\lst}
\regimg{fsC}\addlegendentry{Former Soviet Union\lst}
\regimg{inC}\addlegendentry{India\lst}
\regimg{jpC}\addlegendentry{Japan\lst}
\regimg{meC}\addlegendentry{Middle East\lst}
\regimg{naC}\addlegendentry{North Africa\lst}
\regimg{ocC}\addlegendentry{Oceania\lst}
\regimg{raC}\addlegendentry{Rest of Asia\lst}
\regimg{reC}\addlegendentry{Rest of Europe\lst}
\regimg{rsC}\addlegendentry{Rest of South America\lst}
\regimg{seC}\addlegendentry{Southeast Asia\lst}
\regimg{ssC}\addlegendentry{Sub−Saharan Africa\lst}
\regimg{tuC}\addlegendentry{Turkey\lst}
\regimg{usC}\addlegendentry{USA\lst}
\end{axis}
\end{tikzpicture}
\end{document}
